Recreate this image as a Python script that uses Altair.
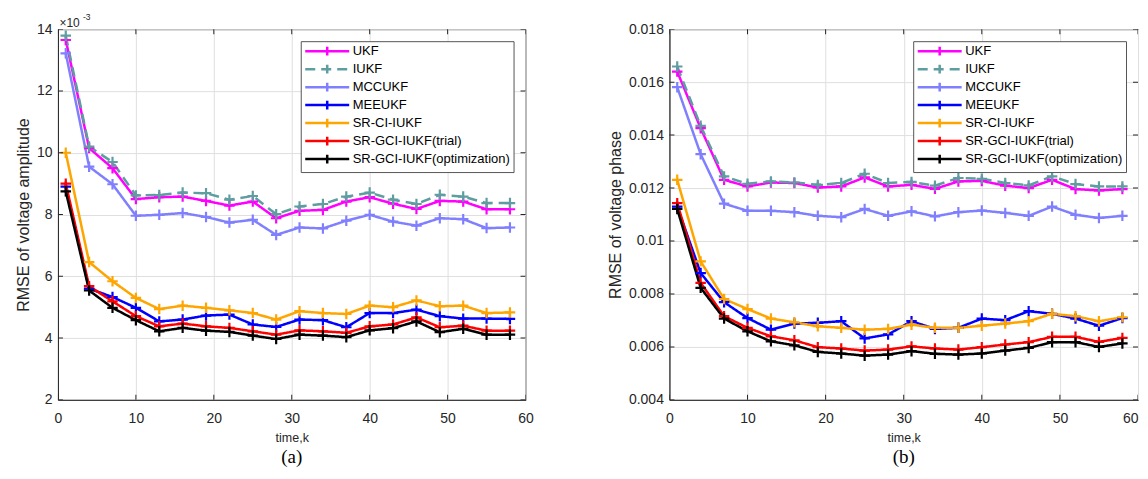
import altair as alt
import pandas as pd

steps = [1, 4, 7, 10, 13, 16, 19, 22, 25, 28, 31, 34, 37, 40, 43, 46, 49, 52, 55, 58]
names = ["UKF", "IUKF", "MCCUKF", "MEEUKF", "SR-CI-IUKF",
         "SR-GCI-IUKF(trial)", "SR-GCI-IUKF(optimization)"]
colors = ["#FF00FF", "#5F9EA0", "#8080FF", "#0000FF", "#FFA500", "#FF0000", "#000000"]
dashes = [[1, 0], [10, 6], [1, 0], [1, 0], [1, 0], [1, 0], [1, 0]]

# (a) RMSE of voltage amplitude, in units of 1e-3
amp_ukf = [13.65, 10.15, 9.5, 8.5, 8.56, 8.58, 8.44, 8.29, 8.42, 7.88, 8.12, 8.15, 8.42, 8.56, 8.35, 8.18, 8.44, 8.42, 8.17, 8.17]
amp_iukf = [13.79, 10.2, 9.7, 8.62, 8.63, 8.71, 8.69, 8.48, 8.6, 8.01, 8.26, 8.34, 8.58, 8.71, 8.48, 8.34, 8.64, 8.58, 8.37, 8.37]
amp_mcc = [13.22, 9.55, 8.98, 7.96, 7.99, 8.05, 7.92, 7.74, 7.83, 7.34, 7.58, 7.55, 7.8, 7.99, 7.77, 7.64, 7.88, 7.85, 7.56, 7.58]
amp_mee = [8.9, 5.6, 5.33, 4.98, 4.54, 4.6, 4.73, 4.76, 4.44, 4.36, 4.6, 4.58, 4.35, 4.81, 4.81, 4.92, 4.71, 4.63, 4.63, 4.62]
amp_srci = [10.0, 6.46, 5.84, 5.30, 4.94, 5.05, 4.98, 4.90, 4.81, 4.6, 4.87, 4.81, 4.78, 5.05, 5.0, 5.22, 5.03, 5.05, 4.81, 4.83]
amp_trial = [9.0, 5.68, 5.19, 4.71, 4.38, 4.47, 4.38, 4.33, 4.22, 4.11, 4.25, 4.22, 4.17, 4.38, 4.44, 4.67, 4.35, 4.4, 4.24, 4.24]
amp_opt = [8.75, 5.54, 4.98, 4.58, 4.22, 4.33, 4.24, 4.2, 4.08, 3.97, 4.11, 4.08, 4.03, 4.25, 4.32, 4.54, 4.19, 4.3, 4.11, 4.11]

# (b) RMSE of voltage phase
ph_ukf = [0.0164, 0.01426, 0.01231, 0.01206, 0.01221, 0.01219, 0.01202, 0.01206, 0.0124, 0.01206, 0.01212, 0.01197, 0.01225, 0.01227, 0.01209, 0.012, 0.01231, 0.01196, 0.01191, 0.01196]
ph_iukf = [0.01659, 0.01435, 0.01244, 0.01216, 0.01225, 0.01221, 0.01212, 0.01219, 0.01254, 0.01219, 0.01223, 0.01209, 0.01238, 0.01235, 0.01219, 0.0121, 0.01244, 0.01215, 0.01206, 0.01206]
ph_mcc = [0.01581, 0.01328, 0.01141, 0.01114, 0.01114, 0.01109, 0.01095, 0.0109, 0.01121, 0.01095, 0.01112, 0.01093, 0.01109, 0.01115, 0.01106, 0.01095, 0.0113, 0.01099, 0.01087, 0.01095]
ph_mee = [0.0113, 0.00879, 0.00769, 0.00709, 0.00665, 0.00688, 0.00691, 0.00697, 0.00632, 0.00647, 0.00697, 0.00668, 0.00672, 0.00707, 0.00701, 0.00735, 0.00725, 0.00707, 0.0068, 0.00709]
ph_srci = [0.01231, 0.00923, 0.00781, 0.00743, 0.00707, 0.00693, 0.00678, 0.00672, 0.00665, 0.00668, 0.00684, 0.00672, 0.00672, 0.0068, 0.00688, 0.00697, 0.00725, 0.00716, 0.00697, 0.00712]
ph_trial = [0.01143, 0.00842, 0.00716, 0.00672, 0.0064, 0.00625, 0.00599, 0.00594, 0.00586, 0.0059, 0.00602, 0.00594, 0.0059, 0.00599, 0.00609, 0.00618, 0.00638, 0.00638, 0.00619, 0.00634]
ph_opt = [0.01121, 0.00823, 0.00707, 0.00659, 0.00621, 0.00606, 0.00581, 0.00575, 0.00567, 0.00571, 0.00584, 0.00574, 0.00571, 0.00575, 0.00586, 0.00596, 0.00618, 0.00618, 0.006, 0.00613]

amp_ticks = [2, 4, 6, 8, 10, 12, 14]
ph_ticks = [0.004, 0.006, 0.008, 0.010, 0.012, 0.014, 0.016, 0.018]
x_ticks = [0, 10, 20, 30, 40, 50, 60]

FONT = "Liberation Sans"
TXT = "#262626"


def make_df(series):
    rows = []
    for name, vals in zip(names, series):
        for k, v in zip(steps, vals):
            rows.append({"k": k, "v": v, "series": name})
    return pd.DataFrame(rows)


def legend():
    return alt.Legend(
        title=None, orient="top-right", offset=12,
        symbolType="M-1,0L7,0M3,-0.8L3,0.8", symbolSize=121,
        symbolStrokeWidth=2.5, labelFont=FONT, labelFontSize=13,
        labelColor="#000000", labelLimit=400, fillColor="white",
        strokeColor="#555555", padding=3, rowPadding=-2, labelOffset=35,
    )


def panel(series, ytitle, ydom, yticks, yfmt, caption, w, xalign, extra=None):
    df = make_df(series)
    base = alt.Chart(df)
    color = alt.Color("series:N", scale=alt.Scale(domain=names, range=colors), legend=legend())
    dash = alt.StrokeDash("series:N", scale=alt.Scale(domain=names, range=dashes), legend=legend())
    xscale = alt.Scale(domain=[0, 60], nice=False)
    yscale = alt.Scale(domain=ydom, nice=False, zero=False)
    xenc = alt.X("k:Q", scale=xscale,
                 axis=alt.Axis(title="time,k", values=x_ticks, labelAlign=xalign))
    yenc = alt.Y("v:Q", scale=yscale,
                 axis=alt.Axis(title=ytitle, values=yticks, format=yfmt))
    lines = base.mark_line(strokeWidth=2.5, clip=True).encode(
        x=xenc, y=yenc, color=color, strokeDash=dash, detail="series:N")
    pts = base.mark_point(shape="M-1,0L1,0M0,-1L0,1", size=110, filled=False,
                          strokeWidth=2.2, opacity=1, clip=True).encode(
        x=xenc, y=yenc, color=color)

    # inward box ticks (MATLAB style) at the axis tick values, on all four sides
    xt = pd.DataFrame([{"k": t, "v": d} for t in x_ticks for d in ydom])
    yt = pd.DataFrame([{"k": d, "v": t} for t in yticks for d in (0, 60)])
    xtick = alt.Chart(xt).mark_tick(orient="vertical", size=10, thickness=1,
                                    color=TXT, clip=True, opacity=1).encode(
        x=alt.X("k:Q", scale=xscale), y=alt.Y("v:Q", scale=yscale))
    ytick = alt.Chart(yt).mark_tick(orient="horizontal", size=10, thickness=1,
                                    color=TXT, clip=True, opacity=1).encode(
        x=alt.X("k:Q", scale=xscale), y=alt.Y("v:Q", scale=yscale))

    layers = [lines, pts, xtick, ytick]
    if extra is not None:
        layers += extra
    return alt.layer(*layers).properties(
        width=w, height=371,
        title=alt.TitleParams(caption, orient="bottom", font="Liberation Serif",
                              fontSize=19, fontWeight="normal", color="#000000", offset=4),
    )


sci = [
    alt.Chart(pd.DataFrame({"t": ["×10"]})).mark_text(
        align="left", baseline="alphabetic", font=FONT, fontSize=12, color=TXT
    ).encode(x=alt.value(1.5), y=alt.value(-2.3), text="t:N"),
    alt.Chart(pd.DataFrame({"t": ["-3"]})).mark_text(
        align="left", baseline="alphabetic", font=FONT, fontSize=8.5, color=TXT
    ).encode(x=alt.value(25), y=alt.value(-9), text="t:N"),
]

pa = panel([amp_ukf, amp_iukf, amp_mcc, amp_mee, amp_srci, amp_trial, amp_opt],
           "RMSE of voltage amplitude", [2, 14], amp_ticks, "d", "(a)", 468,
           "center", sci)
pb = panel([ph_ukf, ph_iukf, ph_mcc, ph_mee, ph_srci, ph_trial, ph_opt],
           "RMSE of voltage phase", [0.004, 0.018], ph_ticks, "~g", "(b)", 469,
           {"expr": "datum.value >= 60 ? 'right' : 'center'"})

chart = alt.hconcat(pa, pb, spacing=72).resolve_scale(
    color="independent", strokeDash="independent"
).resolve_legend(color="independent", strokeDash="independent").configure_view(
    stroke="#262626", strokeWidth=1
).configure_axis(
    labelFont=FONT, labelFontSize=14, labelColor=TXT, titleFont=FONT,
    titleFontWeight="normal", titleColor=TXT,
    gridColor="#DFDFDF", gridWidth=1, domainColor="#262626", ticks=False,
).configure_axisY(titlePadding=5, labelPadding=6, titleFontSize=16).configure_axisX(
    titlePadding=6, labelPadding=12, titleFontSize=12.5
).properties(padding={"left": 6, "top": 4, "right": 1, "bottom": 0})

chart.save("out.html", embed_options={"renderer": "svg", "actions": False})
